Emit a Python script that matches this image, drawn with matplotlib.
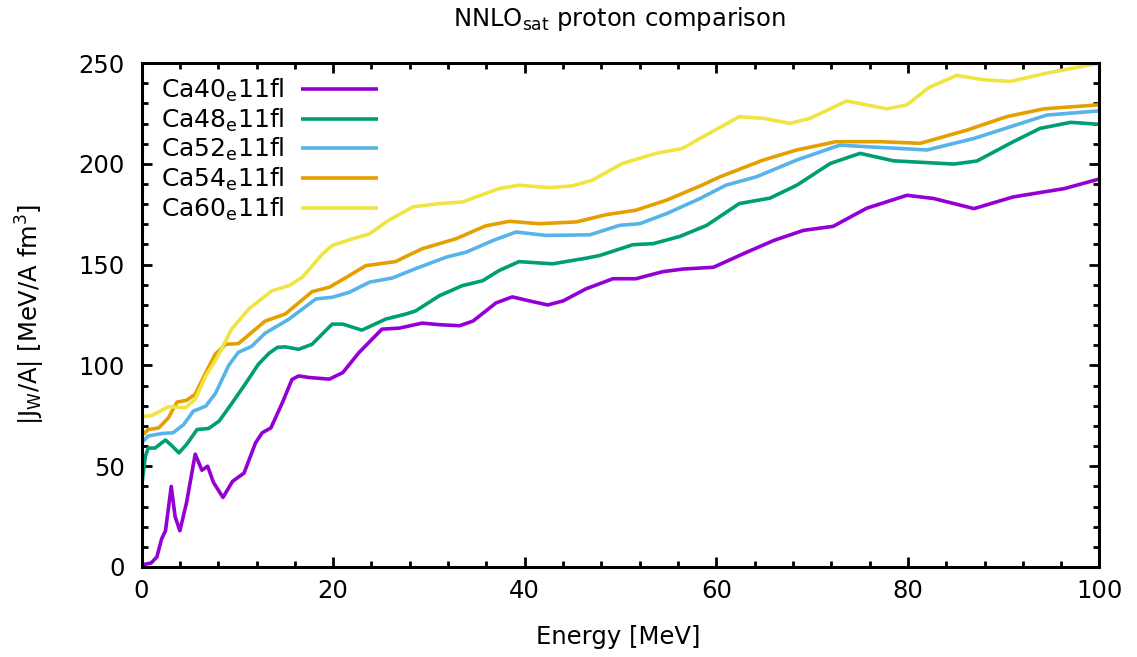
import matplotlib
matplotlib.use("Agg")
import matplotlib.pyplot as plt
from matplotlib.ticker import MultipleLocator

# volume integral of the imaginary potential vs. energy, NNLOsat, protons
ca40_e = [0, 1.0, 1.6, 2.1, 2.5, 3.1, 3.5, 4.0, 4.7, 5.6, 6.3, 6.9, 7.5, 8.5, 9.5,
          10.7, 11.9, 12.6, 13.5, 14.7, 15.7, 16.4, 17.5, 19.6, 21.0, 22.7, 25.1,
          26.9, 29.3, 31.1, 33.2, 34.6, 37.0, 38.7, 40.5, 42.4, 44.0, 46.4, 49.2,
          51.6, 54.4, 56.5, 59.7, 63.1, 66.0, 69.1, 72.2, 75.7, 79.9, 82.7, 86.9,
          91.0, 96.3, 100]
ca40_j = [1, 2, 5, 14, 18, 40, 25, 18, 32, 56, 48, 50, 42, 34.5, 42.5,
          46.6, 61.6, 66.6, 69, 81.5, 93, 94.8, 94, 93.2, 96.4, 106.4, 118,
          118.5, 121, 120.2, 119.7, 122, 131, 134, 132, 130, 132, 138, 143,
          143, 146.5, 147.8, 148.7, 156, 162, 167, 169, 178, 184.4, 182.8, 177.8,
          183.6, 187.7, 192.5]

ca48_e = [0, 0.4, 0.7, 1.4, 2.5, 3.2, 3.9, 4.7, 5.8, 7.0, 8.1, 9.4, 10.8, 12.2,
          13.3, 14.2, 15.0, 16.4, 17.8, 19.9, 21.0, 23.0, 25.5, 27.6, 28.6, 31.1,
          33.5, 35.6, 37.3, 39.4, 42.9, 46.4, 47.8, 51.3, 53.4, 56.2, 59.0, 62.4,
          65.6, 68.4, 71.9, 75.0, 78.5, 84.8, 87.2, 91.0, 93.8, 97.0, 100]
ca48_j = [40, 55, 59, 59, 63, 60, 56.6, 60.8, 68.2, 68.7, 72.4, 81, 90.6, 100.6,
          106, 109, 109.2, 108, 110.5, 120.5, 120.5, 117.5, 123, 125.5, 127, 134.6,
          139.6, 142, 147, 151.5, 150.4, 153.2, 154.5, 159.9, 160.4, 164, 169.5, 180.3,
          183, 189.4, 200.2, 205.2, 201.5, 199.9, 201.4, 211, 217.6, 220.6, 219.6]

ca52_e = [0, 0.7, 2.1, 3.3, 4.4, 5.4, 6.7, 7.7, 9.1, 10.1, 11.5, 12.9, 15.4, 18.2,
          19.9, 21.7, 23.8, 26.2, 28.6, 31.8, 33.9, 36.7, 39.1, 42.2, 46.8, 49.9,
          52.0, 54.8, 58.3, 61.0, 64.2, 68.4, 72.9, 75.7, 82.0, 86.9, 94.5, 100]
ca52_j = [61.6, 65, 66.2, 66.6, 70.7, 77.3, 79.8, 86, 100, 106.5, 109.5, 116, 123, 133,
          133.8, 136.3, 141.3, 143.4, 148, 153.7, 156.2, 162, 166.2, 164.5, 164.8, 169.5,
          170.3, 175.3, 182.8, 189.4, 193.6, 201.9, 209.3, 208.5, 206.9, 212.6, 224.2, 226.3]

ca54_e = [0, 0.7, 1.8, 2.8, 3.7, 4.7, 5.6, 6.7, 7.7, 8.8, 10.1, 12.9, 15.0, 17.8,
          19.6, 21.7, 23.4, 26.5, 29.3, 32.8, 35.9, 38.4, 41.5, 45.4, 48.5, 51.6,
          54.8, 58.3, 60.4, 64.9, 68.4, 72.5, 77.1, 81.3, 86.2, 90.3, 94.2, 100]
ca54_j = [65, 68.2, 69, 74, 81.8, 82.7, 85.7, 96.4, 105.6, 110.5, 110.8, 122, 125.5, 136.6,
          138.8, 144.6, 149.5, 151.5, 157.9, 162.8, 169.2, 171.5, 170.3, 171.2, 174.8, 177,
          182, 189, 193.6, 201.9, 206.9, 211, 211, 210.2, 216.8, 223.4, 227.3, 229.3]

ca60_e = [0, 1.1, 2.8, 4.6, 5.6, 6.7, 7.9, 9.4, 11.2, 13.6, 15.4, 16.8, 18.9, 19.9,
          22.0, 23.8, 25.8, 28.3, 31.1, 33.5, 37.3, 39.4, 42.6, 45.0, 47.1, 50.2,
          53.7, 56.5, 58.3, 62.4, 64.9, 67.7, 69.8, 73.6, 77.8, 79.9, 82.2, 85.1,
          87.9, 90.7, 94.5, 100]
ca60_j = [74.5, 75.2, 79.5, 79, 83.2, 94.8, 104, 118, 128, 137, 139.6, 143.8, 155.4, 159.5,
          162.8, 165.3, 172, 178.6, 180.3, 181.1, 187.7, 189.4, 188.2, 189.1, 192, 200.2,
          205.2, 207.7, 212.6, 223.4, 222.6, 220.1, 222.6, 231.2, 227.3, 229.3, 237.9, 243.9,
          241.7, 240.9, 245, 250]

labels = ["Ca40", "Ca48", "Ca52", "Ca54", "Ca60"]
colors = ["#9400d3", "#009e73", "#56b4e9", "#e69f00", "#f0e442"]
series = [(ca40_e, ca40_j), (ca48_e, ca48_j), (ca52_e, ca52_j),
          (ca54_e, ca54_j), (ca60_e, ca60_j)]

plt.rcParams["font.family"] = "DejaVu Sans"
fig = plt.figure(figsize=(11.37, 6.57), dpi=100)
ax = fig.add_axes([0.1245, 0.137, 0.8425, 0.767])

for (e, j), lab, c in zip(series, labels, colors):
    ax.plot(e, j, color=c, lw=2.6, solid_joinstyle="round", solid_capstyle="butt",
            label=lab + r"$_\mathregular{e}$11fl")

ax.set_xlim(0, 100)
ax.set_ylim(0, 250)
ax.xaxis.set_major_locator(MultipleLocator(20))
ax.xaxis.set_minor_locator(MultipleLocator(4))
ax.yaxis.set_major_locator(MultipleLocator(50))
ax.yaxis.set_minor_locator(MultipleLocator(10))
ax.tick_params(which="both", direction="in", top=True, right=True, width=2)
ax.tick_params(which="major", length=7)
ax.tick_params(which="minor", length=4)
ax.tick_params(axis="y", labelsize=17.5, pad=12)
ax.tick_params(axis="x", labelsize=17.5, pad=9)
for sp in ax.spines.values():
    sp.set_linewidth(2.2)

fig.text(0.545, 0.971, r"NNLO$_\mathregular{sat}$ proton comparison",
         ha="center", va="center", fontsize=17.5)
fig.text(0.5436, 0.031, "Energy [MeV]", ha="center", va="center", fontsize=17.5)
fig.text(0.027, 0.522, r"|J$_\mathregular{W}$/A| [MeV/A fm$^\mathregular{3}$]",
         ha="center", va="center", rotation=90, fontsize=17.5)

ax.legend(loc="upper left", frameon=False, markerfirst=False, fontsize=18,
          handlelength=3.1, handletextpad=0.65, labelspacing=0.1,
          borderaxespad=0.0, borderpad=0.3, bbox_to_anchor=(0.0125, 0.988))

fig.savefig("out.png", dpi=100)
